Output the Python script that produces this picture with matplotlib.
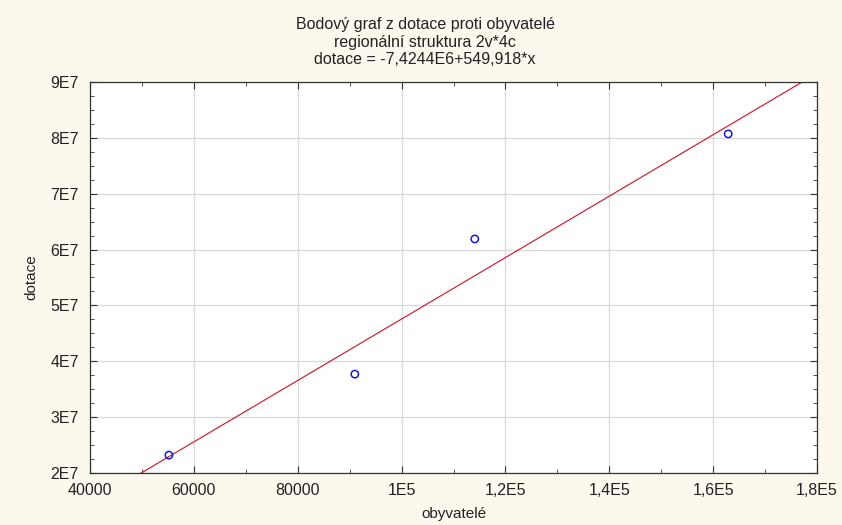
import numpy as np
import matplotlib.pyplot as plt
from matplotlib.ticker import FixedLocator, MultipleLocator

# data
obyvatele = [55200, 91000, 114100, 162900]
dotace = [2.32e7, 3.77e7, 6.19e7, 8.07e7]
intercept = -7.4244e6
slope = 549.918

x_ticks = [40000, 60000, 80000, 100000, 120000, 140000, 160000, 180000]
x_labels = ["40000", "60000", "80000", "1E5", "1,2E5", "1,4E5", "1,6E5", "1,8E5"]
y_ticks = [2e7, 3e7, 4e7, 5e7, 6e7, 7e7, 8e7, 9e7]
y_labels = ["2E7", "3E7", "4E7", "5E7", "6E7", "7E7", "8E7", "9E7"]

plt.rcParams['font.family'] = ['Liberation Sans', 'DejaVu Sans']

fig = plt.figure(figsize=(8.42, 5.25), dpi=100, facecolor="#fcf8ee")
ax = fig.add_axes([90/842, 1 - 473/525, 727/842, 391/525])
ax.set_facecolor("white")

# fitted line from the equation in the title
xl = np.array([x_ticks[0], x_ticks[-1]])
ax.plot(xl, intercept + slope * xl, color="#c8283a", lw=0.9, zorder=2)
ax.scatter(obyvatele, dotace, s=28, facecolors="none", edgecolors="#1a1acc",
           linewidths=1.1, zorder=3)

ax.set_xlim(x_ticks[0], x_ticks[-1])
ax.set_ylim(y_ticks[0], y_ticks[-1])
ax.xaxis.set_major_locator(FixedLocator(x_ticks))
ax.set_xticklabels(x_labels)
ax.yaxis.set_major_locator(FixedLocator(y_ticks))
ax.set_yticklabels(y_labels)
ax.xaxis.set_minor_locator(MultipleLocator(10000))
ax.yaxis.set_minor_locator(MultipleLocator(2.5e6))

ax.grid(True, which="major", color="#d8d8d8", lw=0.9)
ax.tick_params(which="both", direction="in", top=True, right=True,
               colors="#333333", labelcolor="#222222", labelsize=11.5)
ax.tick_params(which="major", length=5)
ax.tick_params(which="minor", length=3)
ax.tick_params(axis="x", pad=7)
ax.tick_params(axis="y", pad=8)
for s in ax.spines.values():
    s.set_color("#333333")
    s.set_linewidth(0.9)

ax.set_xlabel("obyvatelé", fontsize=11, color="#222222", labelpad=7)
ax.set_ylabel("dotace", fontsize=11, color="#222222", labelpad=9)

fig.text(0.505, 1 - 24/525, "Bodový graf z dotace proti obyvatelé", ha="center",
         va="center", fontsize=11.5, color="#222222")
fig.text(0.505, 1 - 42/525, "regionální struktura 2v*4c", ha="center",
         va="center", fontsize=11.5, color="#222222")
fig.text(0.505, 1 - 60/525, "dotace = -7,4244E6+549,918*x", ha="center",
         va="center", fontsize=11.5, color="#222222")

fig.savefig("out.png", dpi=100, facecolor=fig.get_facecolor())
